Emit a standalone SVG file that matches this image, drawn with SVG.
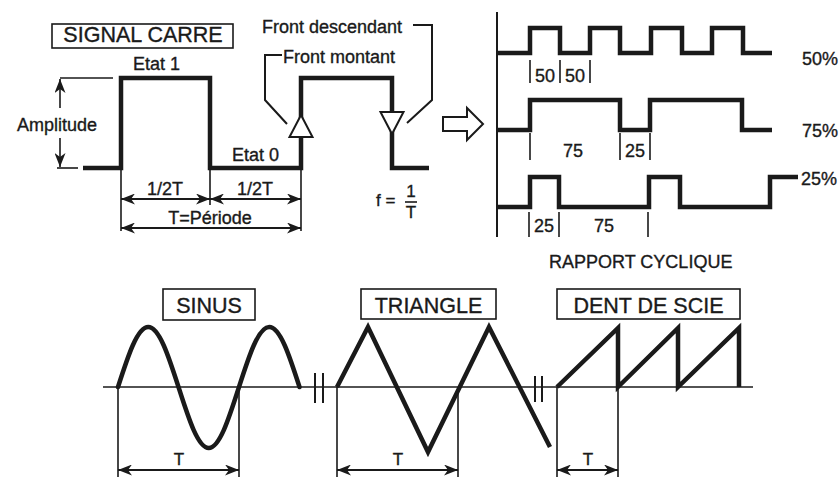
<svg xmlns="http://www.w3.org/2000/svg" width="839" height="477" viewBox="0 0 839 477">
<style>
text{font-family:"Liberation Sans",Arial,sans-serif;fill:#1a1a1a;stroke:#1a1a1a;stroke-width:0.35}
.t18{font-size:18px}
.t17{font-size:17px}
.tb{font-size:21.5px}
.c{text-anchor:middle}
.wave{fill:none;stroke:#1a1a1a;stroke-width:4.5;stroke-linejoin:miter}
.thin{fill:none;stroke:#1a1a1a;stroke-width:1.6}
.med{fill:none;stroke:#1a1a1a;stroke-width:2}
.box{fill:#fff;stroke:#1a1a1a;stroke-width:1.6}
.dim{fill:none;stroke:#1a1a1a;stroke-width:1.8;marker-start:url(#ah);marker-end:url(#ah)}
.hol{fill:#fff;stroke:#1a1a1a;stroke-width:2;stroke-linejoin:miter}
</style>
<defs>
<marker id="ah" viewBox="0 0 14 11" refX="14" refY="5.5" markerWidth="14" markerHeight="11" markerUnits="userSpaceOnUse" orient="auto-start-reverse">
<path d="M0,0 L14,5.5 L0,11 L4,5.5 Z" fill="#1a1a1a"/>
</marker>
</defs>
<rect width="839" height="477" fill="#fff"/>

<g id="signal-carre">
<rect class="box" x="52" y="24" width="181" height="24"/>
<text class="tb c" x="143" y="42">SIGNAL CARRE</text>
</g>
<g id="etat1"><text class="t18" x="133" y="70">Etat 1</text></g>
<g id="etat0"><text class="t18" x="232" y="161">Etat 0</text></g>
<g id="amplitude">
<text class="t18" x="17" y="131">Amplitude</text>
</g>
<g id="square-wave">
<path class="wave" d="M83,168 H121 V78 H210 V168 H301 V78 H392 V168 H429"/>
<polygon class="hol" points="301,115 289.5,137 312.5,137"/>
<polygon class="hol" points="380.5,112 403.5,112 392,134"/>
</g>
<g id="front-montant">
<text class="t18" x="283" y="63">Front montant</text>
</g>
<g id="front-descendant">
<text class="t18" x="262" y="33">Front descendant</text>
</g>
<g id="frequence">
<text class="t17" x="376" y="206">f =</text>
<text class="t17 c" x="411" y="197">1</text>
<line class="thin" x1="405" y1="202" x2="417" y2="202"/>
<text class="t17 c" x="411" y="218">T</text>
</g>
<g id="half-labels">
<text class="t18 c" x="165" y="195">1/2T</text>
<text class="t18 c" x="255" y="195">1/2T</text>
<text class="t18 c" x="210" y="224">T=Période</text>
</g>
<g id="block-arrow">
<polygon class="hol" points="443,117 467,117 467,108 483,124 467,140 467,131 443,131"/>
</g>

<g id="rapport-cyclique">
<line class="med" x1="497" y1="12" x2="497" y2="237"/>
<path class="wave" d="M498,53 H530 V28 H560 V53 H590 V28 H620 V53 H651 V28 H682 V53 H712 V28 H743 V53 H772"/>
<path class="wave" d="M498,130 H530 V100 H620 V130 H650 V100 H742 V130 H772"/>
<path class="wave" d="M498,207 H530 V177 H559 V207 H649 V177 H680 V207 H770 V177 H798"/>
<g class="thin">
<line x1="530" y1="60" x2="530" y2="83"/><line x1="560" y1="60" x2="560" y2="83"/><line x1="590" y1="60" x2="590" y2="83"/>
<line x1="530" y1="133" x2="530" y2="160"/><line x1="620" y1="133" x2="620" y2="160"/><line x1="650" y1="133" x2="650" y2="160"/>
<line x1="529" y1="212" x2="529" y2="237"/><line x1="559" y1="212" x2="559" y2="237"/><line x1="648" y1="212" x2="648" y2="237"/>
</g>
<text class="t18 c" x="545" y="82">50</text>
<text class="t18 c" x="575" y="82">50</text>
<text class="t18 c" x="573" y="157">75</text>
<text class="t18 c" x="635" y="157">25</text>
<text class="t18 c" x="544" y="232">25</text>
<text class="t18 c" x="604" y="232">75</text>
<text class="t18" x="802" y="65">50%</text>
<text class="t18" x="802" y="137">75%</text>
<text class="t18" x="801" y="185">25%</text>
<text class="t18" x="549" y="268">RAPPORT CYCLIQUE</text>
</g>

<g id="sinus">
<rect class="box" x="163" y="289" width="92" height="31"/>
<text class="tb c" x="209" y="313">SINUS</text>
<path class="wave" stroke-linecap="round" stroke-width="5" d="M118,387 C127.87,356.26 137.3,327 148.25,327 C159.2,327 168.63,356.26 178.5,387 C188.37,417.74 197.8,448 208.75,448 C219.7,448 229.13,417.74 239,387 C248.87,356.26 258.3,327 269.25,327 C280.2,327 289.63,356.26 299.5,387"/>
<text class="t17 c" x="179" y="465">T</text>
</g>
<g id="triangle">
<rect class="box" x="361" y="289" width="135" height="30"/>
<text class="tb c" x="428.5" y="313">TRIANGLE</text>
<polyline class="wave" stroke-width="5" points="337,387 368,327 428,452 489,327 550,447"/>
<text class="t17 c" x="398" y="465">T</text>
</g>
<g id="dent-de-scie">
<rect class="box" x="557" y="289" width="183" height="30"/>
<text class="tb c" x="648.5" y="313">DENT DE SCIE</text>
<path class="wave" d="M557,387 L618,328 V387 L678,328 V387 L739,328 V387"/>
<text class="t17 c" x="588" y="465">T</text>
</g>

<g id="connectors">
<polyline class="med" points="282,55 265,55 265,100 287,124"/>
<polyline class="med" points="413,25 432,25 432,100 407,123"/>
<line class="thin" x1="60" y1="78" x2="113" y2="78"/>
<line class="thin" x1="57" y1="168" x2="78" y2="168"/>
<line class="thin" x1="60" y1="108" x2="60" y2="79" marker-end="url(#ah)"/>
<line class="thin" x1="60" y1="138" x2="60" y2="167" marker-end="url(#ah)"/>
<line class="thin" x1="121" y1="168" x2="121" y2="231"/>
<line class="thin" x1="210" y1="168" x2="210" y2="205"/>
<line class="thin" x1="301" y1="168" x2="301" y2="231"/>
<line class="dim" x1="121" y1="199" x2="210" y2="199"/>
<line class="dim" x1="210" y1="199" x2="301" y2="199"/>
<line class="dim" x1="121" y1="228" x2="301" y2="228"/>
<line class="thin" x1="103" y1="387" x2="753" y2="387"/>
<g class="med">
<line x1="315" y1="373" x2="315" y2="403"/><line x1="323" y1="373" x2="323" y2="403"/>
<line x1="535" y1="376" x2="535" y2="402"/><line x1="542" y1="376" x2="542" y2="402"/>
</g>
<line class="thin" x1="118" y1="387" x2="118" y2="477"/>
<line class="thin" x1="239" y1="387" x2="239" y2="477"/>
<line class="thin" x1="337" y1="387" x2="337" y2="477"/>
<line class="thin" x1="458" y1="387" x2="458" y2="477"/>
<line class="thin" x1="557" y1="387" x2="557" y2="477"/>
<line class="thin" x1="618" y1="387" x2="618" y2="477"/>
<line class="dim" x1="118" y1="470" x2="239" y2="470"/>
<line class="dim" x1="337" y1="470" x2="458" y2="470"/>
<line class="dim" x1="557" y1="470" x2="618" y2="470"/>
</g>
</svg>
